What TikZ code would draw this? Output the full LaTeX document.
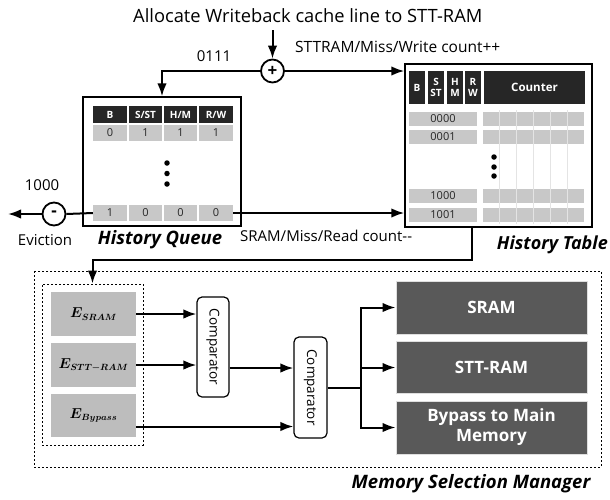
\documentclass[tikz,border=0pt]{standalone}
\usepackage{amsmath}
\usepackage{bm}
\usepackage{fontspec}
\setmainfont{Open Sans}
\usetikzlibrary{arrows.meta,calc}
\definecolor{hdrc}{HTML}{262626}
\definecolor{cellc}{HTML}{C8C8C8}
\definecolor{ecol}{HTML}{BDBDBD}
\definecolor{outc}{HTML}{595959}
\definecolor{gridc}{HTML}{E4E4E4}
\tikzset{
  arr/.style={line width=2pt,-{Latex[length=13pt,width=9.5pt]}},
  ln/.style={line width=2pt},
  hdr/.style={fill=hdrc,text=white,font=\bfseries\fontsize{10}{10.5}\selectfont,inner sep=0pt,align=center},
  cell/.style={fill=cellc,text=black!85,font=\fontsize{11}{12}\selectfont,inner sep=0pt},
  ccell/.style={fill=cellc,inner sep=0pt,minimum width=16pt,minimum height=14pt},
  tbox/.style={draw,line width=1.4pt,inner sep=0pt},
  lbl/.style={font=\fontsize{15}{17}\selectfont,inner sep=0pt},
  ttl/.style={font=\bfseries\itshape\fontsize{18.5}{20}\selectfont,inner sep=0pt},
  evbox/.style={fill=ecol,inner sep=0pt,minimum width=85pt,font=\fontsize{13.5}{16}\selectfont},
  comp/.style={draw,line width=1.2pt,rounded corners=5pt,inner sep=0pt,minimum width=32pt,minimum height=100pt},
  outbox/.style={fill=outc,draw=gray!25,line width=1pt,text=white,font=\bfseries\fontsize{17}{20}\selectfont,align=center,inner sep=0pt,minimum width=191pt},
  sumc/.style={draw,circle,line width=1.8pt,minimum size=23pt,inner sep=0pt,font=\bfseries\fontsize{17}{17}\selectfont},
  dashbox/.style={draw,line width=1pt,dash pattern=on 2.4pt off 1.6pt},
  dotc/.style={fill=black,circle,inner sep=0pt,minimum size=5.5pt}
}
\begin{document}
\begin{tikzpicture}[x=1pt,y=-1pt]
\useasboundingbox (0,0) rectangle (610,499);

% title and adder
\node[font=\fontsize{18.3}{21}\selectfont,inner sep=0pt,anchor=west] (title) at (133,16) {Allocate Writeback cache line to STT-RAM};
\node[sumc] (plus) at (272.5,71) {+};
\coordinate (tin) at (272.5,30);
\draw[arr] (tin) -- (plus.north);

% History Queue
\node[tbox,minimum width=158pt,minimum height=129pt] (hq) at (162,161.5) {};
\node[hdr,minimum width=34pt,minimum height=17pt] (qB) at (110,114.5) {B};
\node[hdr,minimum width=33pt,minimum height=17pt] (qS) at (145.5,114.5) {S/ST};
\node[hdr,minimum width=33pt,minimum height=17pt] (qH) at (180.5,114.5) {H/M};
\node[hdr,minimum width=34pt,minimum height=17pt] (qR) at (216,114.5) {R/W};
\node[cell,minimum width=34pt,minimum height=16pt] (a1) at (110,133) {0};
\node[cell,minimum width=33pt,minimum height=16pt] (a2) at (145.5,133) {1};
\node[cell,minimum width=33pt,minimum height=16pt] (a3) at (180.5,133) {1};
\node[cell,minimum width=34pt,minimum height=16pt] (a4) at (216,133) {1};
\node[cell,minimum width=34pt,minimum height=16pt] (b1) at (110,213) {1};
\node[cell,minimum width=33pt,minimum height=16pt] (b2) at (145.5,213) {0};
\node[cell,minimum width=33pt,minimum height=16pt] (b3) at (180.5,213) {0};
\node[cell,minimum width=34pt,minimum height=16pt] (b4) at (216,213) {0};
\node[dotc] (qd1) at (167,163) {};
\node[dotc] (qd2) at (167,173.5) {};
\node[dotc] (qd3) at (167,184) {};

% History Table
\node[tbox,minimum width=187pt,minimum height=163pt] (ht) at (498.5,145.5) {};
\foreach \i in {1,...,5}{
  \draw[gridc,line width=0.6pt] (483+17*\i-0.5,110) -- (483+17*\i-0.5,224);
}
\node[hdr,minimum width=16pt,minimum height=33pt] (tB) at (417,87.5) {B};
\node[hdr,minimum width=16pt,minimum height=33pt] (tS) at (436,87.5) {S\\ST};
\node[hdr,minimum width=16pt,minimum height=33pt] (tH) at (455,87.5) {H\\M};
\node[hdr,minimum width=16pt,minimum height=33pt] (tR) at (473,87.5) {R\\W};
\node[hdr,minimum width=101pt,minimum height=33pt,font=\bfseries\fontsize{11.5}{12}\selectfont] (tC) at (534.5,87.5) {Counter};
\node[cell,minimum width=68pt,minimum height=14pt] (r0) at (443,118.5) {0000};
\node[cell,minimum width=68pt,minimum height=14pt] (r1) at (443,136.5) {0001};
\node[cell,minimum width=68pt,minimum height=14pt] (r8) at (443,196) {1000};
\node[cell,minimum width=68pt,minimum height=14pt] (r9) at (443,214.5) {1001};
\foreach \y/\n in {118.5/a,136.5/b,196/c,214.5/d}{
  \foreach \i in {0,...,5}{
    \node[ccell] (c\n\i) at (491+17*\i,\y) {};
  }
}
\node[dotc] (td1) at (494,157) {};
\node[dotc] (td2) at (494,167) {};
\node[dotc] (td3) at (494,176) {};

% top connectors
\draw[arr] (plus.west) -| (hq.north);
\draw[arr] (plus.east) -- (plus.east -| ht.west);
\node[lbl] (l0111) at (214,56) {0111};
\node[lbl,anchor=west,font=\fontsize{15.5}{17}\selectfont] (lsttram) at (295,47) {STTRAM/Miss/Write count++};

% eviction
\node[sumc] (minus) at (54,214) {-};
\coordinate (evout) at (8,214);
\draw[arr] (minus.west) -- (evout);
\draw[ln] (b1.west) -- (minus.east);
\draw[arr] (b4.east) -- (b4.east -| ht.west);
\node[lbl] (l1000) at (42,185) {1000};
\node[lbl] (levic) at (45,240) {Eviction};
\node[ttl] (hqlbl) at (160,240) {History Queue};
\node[lbl,anchor=west] (lsram) at (240,236) {SRAM/Miss/Read count-{}-};
\node[ttl,anchor=east,font=\bfseries\itshape\fontsize{18}{20}\selectfont] (htlbl) at (608,245) {History Table};

% Memory Selection Manager
\draw[dashbox] (34,271) rectangle (601,467);
\node[dashbox,minimum width=101pt,minimum height=161pt,inner sep=0pt] (inner) at (92.5,364.5) {};
\node[evbox,minimum height=44pt] (esram) at (93.5,314) {$\bm{E_{SRAM}}$};
\node[evbox,minimum height=44pt] (estt) at (93.5,365) {$\bm{E_{STT-RAM}}$};
\node[evbox,minimum height=43pt] (ebyp) at (93.5,415.5) {$\bm{E_{Bypass}}$};
\node[comp] (comp1) at (213,347) {\rotatebox{-90}{\fontsize{13.5}{14}\selectfont Comparator}};
\node[comp,minimum width=33pt,minimum height=101pt] (comp2) at (310.5,387.5) {\rotatebox{-90}{\fontsize{13.5}{14}\selectfont Comparator}};
\node[outbox,minimum height=53pt] (osram) at (491.5,307.5) {SRAM};
\node[outbox,minimum height=52pt] (ostt) at (491.5,367.5) {STT-RAM};
\node[outbox,minimum height=53pt] (obyp) at (491.5,427.5) {Bypass to Main\\Memory};
\node[ttl] (msmlbl) at (471,484) {Memory Selection Manager};

% history table to manager
\coordinate (htout) at (472,227);
\coordinate (turn) at (472,260);
\draw[arr] (htout) -- (turn) -| (inner.north);

% manager connectors
\draw[arr] (esram.east) -- (esram.east -| comp1.west);
\draw[arr] (estt.east) -- (estt.east -| comp1.west);
\coordinate (c1o) at ($(comp1.east)+(0,21)$);
\draw[arr] (c1o) -- (c1o -| comp2.west);
\coordinate (byo) at ($(ebyp.east)+(0,11)$);
\draw[arr] (byo) -- (byo -| comp2.west);
\coordinate (jn) at (361,387.5);
\draw[ln] (comp2.east) -- (jn);
\draw[arr] (jn) |- (osram.west);
\draw[arr] (jn) |- (obyp.west);
\draw[arr] (jn |- ostt.west) -- (ostt.west);
\end{tikzpicture}
\end{document}
